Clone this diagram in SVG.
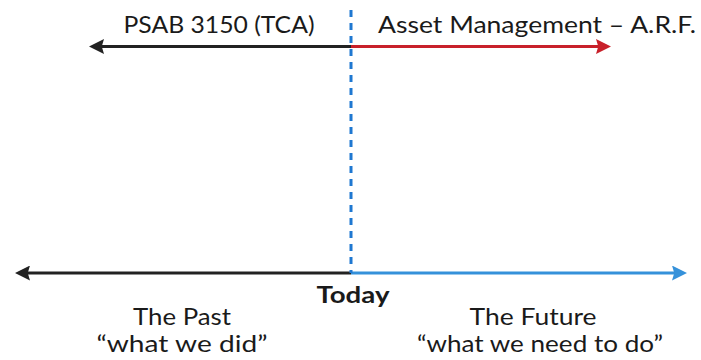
<svg xmlns="http://www.w3.org/2000/svg" width="701" height="360" viewBox="0 0 701 360">
  <style>
    .lbl { font-family: Lato, "Open Sans", "Liberation Sans", sans-serif; font-size: 23.5px; fill: #1a1a1a; }
    .bold { font-weight: bold; }
    .line { stroke-width: 3; fill: none; }
  </style>
  <defs>
    <marker id="headBlack" viewBox="0 0 10 10" refX="2" refY="5" markerWidth="5.5" markerHeight="5" orient="auto-start-reverse" markerUnits="strokeWidth">
      <path d="M0,0 L10,5 L0,10 L1.5,5 Z" fill="#222"/>
    </marker>
    <marker id="headRed" viewBox="0 0 10 10" refX="2" refY="5" markerWidth="5.5" markerHeight="5" orient="auto" markerUnits="strokeWidth">
      <path d="M0,0 L10,5 L0,10 L1.5,5 Z" fill="#c8202a"/>
    </marker>
    <marker id="headBlue" viewBox="0 0 10 10" refX="2" refY="5" markerWidth="5.5" markerHeight="5" orient="auto" markerUnits="strokeWidth">
      <path d="M0,0 L10,5 L0,10 L1.5,5 Z" fill="#3591da"/>
    </marker>
  </defs>
  <rect width="701" height="360" fill="#fff"/>

  <g id="connectors">
    <!-- upper timeline -->
    <line class="line" x1="351" y1="46.5" x2="101" y2="46.5" stroke="#222" marker-end="url(#headBlack)"/>
    <line class="line" x1="351" y1="46.5" x2="599" y2="46.5" stroke="#c8202a" marker-end="url(#headRed)"/>
    <!-- lower timeline -->
    <line class="line" x1="351" y1="273" x2="27" y2="273" stroke="#222" marker-end="url(#headBlack)"/>
    <line class="line" x1="351" y1="273" x2="675" y2="273" stroke="#3591da" marker-end="url(#headBlue)"/>
    <!-- today marker -->
    <line x1="351" y1="10" x2="351" y2="273" stroke="#1f78d1" stroke-width="3" stroke-dasharray="7 6"/>
  </g>

  <g id="label-psab">
    <text class="lbl" x="219" y="33" text-anchor="middle" textLength="191" lengthAdjust="spacingAndGlyphs">PSAB 3150 (TCA)</text>
  </g>
  <g id="label-asset">
    <text class="lbl" x="537" y="33" text-anchor="middle" textLength="318" lengthAdjust="spacingAndGlyphs">Asset Management – A.R.F.</text>
  </g>
  <g id="label-today">
    <text class="lbl bold" x="353" y="303" text-anchor="middle" textLength="73" lengthAdjust="spacingAndGlyphs">Today</text>
  </g>
  <g id="label-past">
    <text class="lbl" x="182" y="325" text-anchor="middle" textLength="98" lengthAdjust="spacingAndGlyphs">The Past</text>
    <text class="lbl" x="182" y="352" text-anchor="middle" textLength="171" lengthAdjust="spacingAndGlyphs">“what we did”</text>
  </g>
  <g id="label-future">
    <text class="lbl" x="533" y="325" text-anchor="middle" textLength="127" lengthAdjust="spacingAndGlyphs">The Future</text>
    <text class="lbl" x="540" y="352" text-anchor="middle" textLength="246" lengthAdjust="spacingAndGlyphs">“what we need to do”</text>
  </g>
</svg>
